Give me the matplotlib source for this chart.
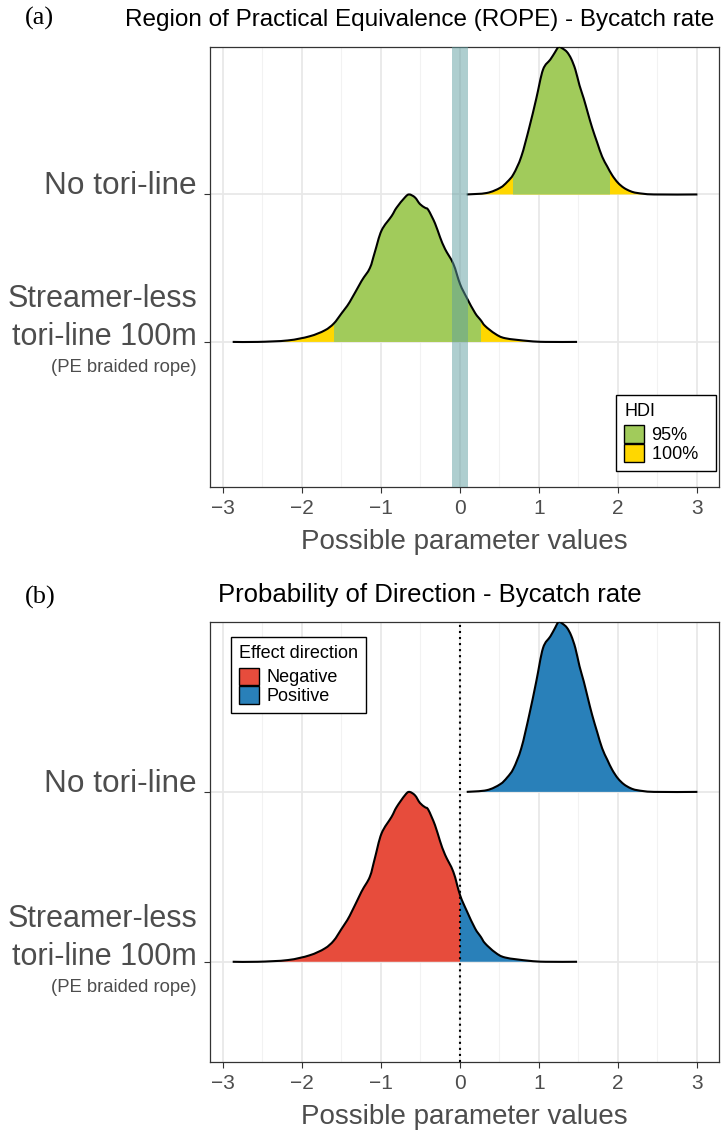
import numpy as np
import matplotlib.pyplot as plt
from matplotlib.patches import Patch, Rectangle, PathPatch
from matplotlib.path import Path

plt.rcParams['font.family'] = ['Liberation Sans', 'DejaVu Sans']

# posterior density of the "No tori-line" parameter (scaled so peak = 1)
no_tori_x = [0.088, 0.342, 0.511, 0.600, 0.680, 0.778, 0.879, 0.968, 1.053, 1.146,
             1.200, 1.250, 1.300, 1.357, 1.410, 1.463, 1.515, 1.569, 1.622, 1.675,
             1.740, 1.802, 1.866, 1.929, 2.000, 2.076, 2.160, 2.246, 2.457, 3.007]
no_tori_y = [0.0, 0.010, 0.045, 0.085, 0.138, 0.256, 0.453, 0.650, 0.846, 0.915,
             0.960, 1.0, 0.990, 0.966, 0.920, 0.846, 0.740, 0.650, 0.550, 0.453,
             0.350, 0.256, 0.190, 0.130, 0.080, 0.045, 0.022, 0.010, 0.0, 0.0]

# posterior density of the "Streamer-less tori-line 100m" parameter
streamer_x = [-2.873, -2.556, -2.175, -1.900, -1.709, -1.595, -1.498, -1.393, -1.244,
              -1.138, -1.075, -0.990, -0.863, -0.800, -0.694, -0.640, -0.567, -0.504,
              -0.440, -0.398, -0.313, -0.250, -0.186, -0.081, 0.004, 0.088, 0.194,
              0.266, 0.321, 0.448, 0.575, 0.871, 1.083, 1.484]
streamer_y = [0.0, 0.0, 0.010, 0.038, 0.078, 0.124, 0.192, 0.270, 0.412,
              0.500, 0.608, 0.755, 0.853, 0.910, 0.980, 1.0, 0.980, 0.935,
              0.910, 0.895, 0.804, 0.711, 0.630, 0.529, 0.392, 0.300, 0.196,
              0.147, 0.108, 0.055, 0.025, 0.006, 0.0, 0.0]

# 95% HDI limits and ROPE
no_tori_hdi = (0.668, 1.895)
streamer_hdi = (-1.595, 0.266)
rope = (-0.1, 0.1)

x_ticks = [-3, -2, -1, 0, 1, 2, 3]

GREEN = '#A1CB5B'
YELLOW = '#FFD700'
RED = '#E74C3C'
BLUE = '#2980B9'
GREY = '#4D4D4D'

fig = plt.figure(figsize=(7.24, 11.33), dpi=100)
W, H = 724, 1133


def px_axes(left, top, right, bottom):
    return fig.add_axes([left / W, 1 - bottom / H, (right - left) / W, (bottom - top) / H])


def style_axes(ax, ylim, labelpad):
    ax.set_xlim(-3.16, 3.28)
    ax.set_ylim(*ylim)
    ax.set_xticks(x_ticks)
    ax.set_xticks(np.arange(-3, 3.5, 0.5), minor=True)
    ax.set_yticks([1, 2])
    ax.set_yticklabels(['', ''])
    ax.grid(which='major', color='#E8E8E8', lw=1.3, zorder=0)
    ax.grid(which='minor', axis='x', color='#F2F2F2', lw=0.8, zorder=0)
    ax.set_axisbelow(True)
    ax.tick_params(which='minor', length=0)
    ax.tick_params(which='major', length=4, width=0.8, color='#333333',
                   labelsize=15, labelcolor=GREY, pad=4.8)
    for s in ax.spines.values():
        s.set_color('#333333')
        s.set_linewidth(0.9)
    ax.set_xlabel('Possible parameter values', fontsize=20, color=GREY, labelpad=labelpad)
    # category labels
    kw = dict(xycoords=('axes fraction', 'data'), textcoords='offset pixels',
              ha='right', va='baseline', color=GREY)
    ax.annotate('No tori-line', (0, 2), xytext=(-13, 0), fontsize=22.7, **kw)
    ax.annotate('Streamer-less', (0, 1), xytext=(-13, 35), fontsize=22, **kw)
    ax.annotate('tori-line 100m', (0, 1), xytext=(-13, -3), fontsize=22, **kw)
    ax.annotate('(PE braided rope)', (0, 1), xytext=(-13, -30), fontsize=13.3, **kw)


def curve_codes(x, y):
    # smooth (Catmull-Rom as cubic Bezier) path through the read points
    p = np.column_stack([x, y])
    n = len(p)
    verts = [p[0]]
    codes = []
    for i in range(n - 1):
        p0 = p[max(i - 1, 0)]
        p1, p2 = p[i], p[i + 1]
        p3 = p[min(i + 2, n - 1)]
        c1 = p1 + (p2 - p0) / 6
        c2 = p2 - (p3 - p1) / 6
        verts += [c1, c2, p2]
        codes += [Path.CURVE4] * 3
    return verts, codes


def ridge(ax, x, y, base, parts):
    verts, codes = curve_codes(np.asarray(x), base + np.asarray(y))
    fill_v = [(x[0], base)] + verts + [(x[-1], base), (x[0], base)]
    fill_c = [Path.MOVETO, Path.LINETO] + codes + [Path.LINETO, Path.CLOSEPOLY]
    for lo, hi, col in parts:
        patch = PathPatch(Path(fill_v, fill_c), facecolor=col, lw=0, zorder=2)
        ax.add_patch(patch)
        patch.set_clip_path(Rectangle((lo, base - 1), hi - lo, 3, transform=ax.transData))
    line = PathPatch(Path(verts, [Path.MOVETO] + codes), facecolor='none',
                     edgecolor='black', lw=1.5, zorder=3)
    ax.add_patch(line)


def legend(ax, handles, title, loc, anchor):
    leg = ax.legend(handles=handles, title=title, loc=loc, bbox_to_anchor=anchor,
                    borderaxespad=0, fontsize=13, title_fontsize=13,
                    alignment='left', handlelength=1.1, handleheight=1.1,
                    handletextpad=0.4, labelspacing=0, borderpad=0.45,
                    fancybox=False, framealpha=1, edgecolor='black')
    leg.get_frame().set_linewidth(1.0)
    leg._legend_box.sep = 4  # gap between title and keys
    return leg


# ---- (a) ROPE ----
ax1 = px_axes(210, 47, 719, 487)
style_axes(ax1, (0.016, 3.0), 7.5)
ridge(ax1, streamer_x, streamer_y, 1,
      [(-10, 10, YELLOW), (streamer_hdi[0], streamer_hdi[1], GREEN)])
ridge(ax1, no_tori_x, no_tori_y, 2,
      [(-10, 10, YELLOW), (no_tori_hdi[0], no_tori_hdi[1], GREEN)])
ax1.axvspan(rope[0], rope[1], color='cadetblue', alpha=0.5, lw=0, zorder=5)
legend(ax1, [Patch(facecolor=GREEN, edgecolor='black', label='95%'),
             Patch(facecolor=YELLOW, edgecolor='black', label='100%  ')],
       'HDI', 'lower right', (0.994, 0.036))
fig.text(420 / W, 1 - 20 / H, 'Region of Practical Equivalence (ROPE) - Bycatch rate',
         ha='center', va='center', fontsize=17.5)
fig.text(25 / W, 1 - 18 / H, '(a)', ha='left', va='center', fontsize=19,
         family='Liberation Serif')

# ---- (b) Probability of direction ----
ax2 = px_axes(210, 622, 719, 1062)
style_axes(ax2, (0.41, 3.0), 7.5)
ridge(ax2, streamer_x, streamer_y, 1, [(-10, 0, RED), (0, 10, BLUE)])
ridge(ax2, no_tori_x, no_tori_y, 2, [(-10, 0, RED), (0, 10, BLUE)])
ax2.axvline(0, color='black', ls=(0, (1, 1.9)), lw=1.5, zorder=5)
legend(ax2, [Patch(facecolor=RED, edgecolor='black', label='Negative'),
             Patch(facecolor=BLUE, edgecolor='black', label='Positive')],
       'Effect direction', 'upper left', (0.041, 0.966))
fig.text(430 / W, 1 - 595 / H, 'Probability of Direction - Bycatch rate',
         ha='center', va='center', fontsize=18.5)
fig.text(25 / W, 1 - 597 / H, '(b)', ha='left', va='center', fontsize=19,
         family='Liberation Serif')

fig.savefig('out.png', dpi=100)
